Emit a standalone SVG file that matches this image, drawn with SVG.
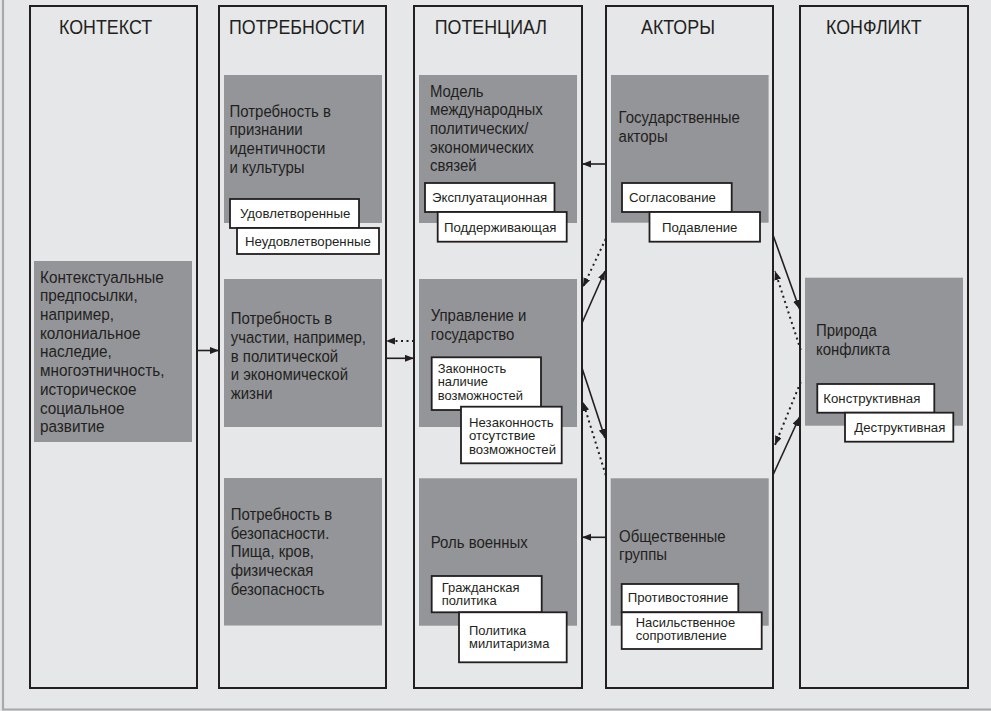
<svg xmlns="http://www.w3.org/2000/svg" width="991" height="711" viewBox="0 0 991 711">
<defs>
<style>
.col{fill:none;stroke:#231f20;stroke-width:2}
.g{fill:#939598}
.w{fill:#ffffff;stroke:#231f20;stroke-width:1.8}
.h{font-family:"Liberation Sans",Arial,sans-serif;font-size:21px;fill:#231f20}
.t{font-family:"Liberation Sans",Arial,sans-serif;font-size:17px;fill:#231f20}
.s{font-family:"Liberation Sans",Arial,sans-serif;font-size:13.5px;fill:#231f20}
.m{font-family:"Liberation Sans",Arial,sans-serif;font-size:12px;fill:#231f20}
.ln{fill:none;stroke:#231f20;stroke-width:1.6;marker-end:url(#ah)}
.dt{fill:none;stroke:#231f20;stroke-width:2;stroke-dasharray:2 3.5;marker-end:url(#ah)}
</style>
<marker id="ah" markerUnits="userSpaceOnUse" markerWidth="10" markerHeight="8" refX="9" refY="3.5" orient="auto">
<path d="M0,0 L9,3.5 L0,7 z" fill="#231f20"/>
</marker>
</defs>
<rect x="0" y="0" width="991" height="711" fill="#e6e7e8"/>
<path d="M3,0 V709.5 H991" fill="none" stroke="#a7a9ac" stroke-width="2.2"/>

<g id="col-context">
<rect class="col" x="30" y="6" width="167" height="682"/>
<text class="h" transform="translate(59 34) scale(0.85 1)">КОНТЕКСТ</text>
</g>
<g id="col-needs">
<rect class="col" x="219" y="6" width="167" height="682"/>
<text class="h" transform="translate(229 34) scale(0.85 1)">ПОТРЕБНОСТИ</text>
</g>
<g id="col-potential">
<rect class="col" x="414" y="6" width="168" height="682"/>
<text class="h" transform="translate(434.7 34) scale(0.85 1)">ПОТЕНЦИАЛ</text>
</g>
<g id="col-actors">
<rect class="col" x="606" y="6" width="167" height="682"/>
<text class="h" transform="translate(641 34) scale(0.85 1)">АКТОРЫ</text>
</g>
<g id="col-conflict">
<rect class="col" x="800" y="6" width="168" height="682"/>
<text class="h" transform="translate(826 34) scale(0.85 1)">КОНФЛИКТ</text>
</g>

<g id="context-box">
<rect class="g" x="34" y="261" width="158" height="181"/>
<text class="t" transform="translate(40 282.7) scale(0.9 1)"><tspan x="0" y="0">Контекстуальные</tspan><tspan x="0" dy="18.7">предпосылки,</tspan><tspan x="0" dy="18.7">например,</tspan><tspan x="0" dy="18.7">колониальное</tspan><tspan x="0" dy="18.7">наследие,</tspan><tspan x="0" dy="18.7">многоэтничность,</tspan><tspan x="0" dy="18.7">историческое</tspan><tspan x="0" dy="18.7">социальное</tspan><tspan x="0" dy="18.7">развитие</tspan></text>
</g>

<g id="need-identity">
<rect class="g" x="224" y="75" width="158" height="148"/>
<text class="t" transform="translate(229.5 116.7) scale(0.88 1)"><tspan x="0" y="0">Потребность в</tspan><tspan x="0" dy="18.7">признании</tspan><tspan x="0" dy="18.7">идентичности</tspan><tspan x="0" dy="18.7">и культуры</tspan></text>
</g>
<g id="opt-satisfied">
<rect class="w" x="230" y="199" width="129" height="29"/>
<text class="s" transform="translate(240 217.5) scale(0.98 1)">Удовлетворенные</text>
</g>
<g id="opt-unsatisfied">
<rect class="w" x="237" y="228" width="142" height="26"/>
<text class="s" transform="translate(245 246) scale(0.98 1)">Неудовлетворенные</text>
</g>

<g id="need-participation">
<rect class="g" x="224" y="279" width="158" height="148"/>
<text class="t" transform="translate(230.7 324.3) scale(0.88 1)"><tspan x="0" y="0">Потребность в</tspan><tspan x="0" dy="18.7">участии, например,</tspan><tspan x="0" dy="18.7">в политической</tspan><tspan x="0" dy="18.7">и экономической</tspan><tspan x="0" dy="18.7">жизни</tspan></text>
</g>

<g id="need-security">
<rect class="g" x="224" y="478" width="158" height="147.5"/>
<text class="t" transform="translate(230.7 520) scale(0.88 1)"><tspan x="0" y="0">Потребность в</tspan><tspan x="0" dy="18.7">безопасности.</tspan><tspan x="0" dy="18.7">Пища, кров,</tspan><tspan x="0" dy="18.7">физическая</tspan><tspan x="0" dy="18.7">безопасность</tspan></text>
</g>

<g id="pot-model">
<rect class="g" x="419" y="75" width="158" height="148"/>
<text class="t" transform="translate(430 96.7) scale(0.88 1)"><tspan x="0" y="0">Модель</tspan><tspan x="0" dy="18.7">международных</tspan><tspan x="0" dy="18.7">политических/</tspan><tspan x="0" dy="18.7">экономических</tspan><tspan x="0" dy="18.7">связей</tspan></text>
</g>
<g id="opt-exploit">
<rect class="w" x="425" y="183" width="129.5" height="29"/>
<text class="s" transform="translate(432 201.5) scale(0.98 1)">Эксплуатационная</text>
</g>
<g id="opt-support">
<rect class="w" x="437.7" y="212" width="129" height="29.7"/>
<text class="s" transform="translate(444 231.5) scale(0.98 1)">Поддерживающая</text>
</g>

<g id="pot-governance">
<rect class="g" x="419" y="279" width="158" height="148"/>
<text class="t" transform="translate(430.7 321) scale(0.88 1)"><tspan x="0" y="0">Управление и</tspan><tspan x="0" dy="18.7">государство</tspan></text>
</g>
<g id="opt-legit">
<rect class="w" x="431.7" y="357.3" width="109.3" height="52.7"/>
<text class="m" transform="translate(437.7 373) scale(1.08 1)"><tspan x="0" y="0">Законность</tspan><tspan x="0" dy="13.4">наличие</tspan><tspan x="0" dy="13.4">возможностей</tspan></text>
</g>
<g id="opt-illegit">
<rect class="w" x="461" y="406.7" width="100.7" height="56.6"/>
<text class="m" transform="translate(469 426.7) scale(1.1 1)"><tspan x="0" y="0">Незаконность</tspan><tspan x="0" dy="13.4">отсутствие</tspan><tspan x="0" dy="13.4">возможностей</tspan></text>
</g>

<g id="pot-military">
<rect class="g" x="419" y="478.3" width="158" height="147.4"/>
<text class="t" transform="translate(430.7 548.3) scale(0.88 1)">Роль военных</text>
</g>
<g id="opt-civil">
<rect class="w" x="431.7" y="576" width="110" height="36.3"/>
<text class="m" transform="translate(441.7 591.5) scale(1.08 1)"><tspan x="0" y="0">Гражданская</tspan><tspan x="0" dy="13.4">политика</tspan></text>
</g>
<g id="opt-militarism">
<rect class="w" x="459" y="612.3" width="107.7" height="50"/>
<text class="m" transform="translate(469 635) scale(1.08 1)"><tspan x="0" y="0">Политика</tspan><tspan x="0" dy="13.4">милитаризма</tspan></text>
</g>

<g id="act-state">
<rect class="g" x="611" y="75" width="157.6" height="147.7"/>
<text class="t" transform="translate(618.6 123) scale(0.88 1)"><tspan x="0" y="0">Государственные</tspan><tspan x="0" dy="18.7">акторы</tspan></text>
</g>
<g id="opt-consent">
<rect class="w" x="622" y="183" width="109.7" height="29"/>
<text class="s" transform="translate(629 201.5) scale(0.98 1)">Согласование</text>
</g>
<g id="opt-repress">
<rect class="w" x="649.5" y="212" width="110.5" height="29.7"/>
<text class="s" transform="translate(662 231.5) scale(0.98 1)">Подавление</text>
</g>

<g id="act-groups">
<rect class="g" x="610.7" y="478.3" width="158" height="147.4"/>
<text class="t" transform="translate(619 541.7) scale(0.88 1)"><tspan x="0" y="0">Общественные</tspan><tspan x="0" dy="18.5">группы</tspan></text>
</g>
<g id="opt-oppose">
<rect class="w" x="621.7" y="584" width="116.6" height="28.3"/>
<text class="s" transform="translate(627.7 602) scale(0.98 1)">Противостояние</text>
</g>
<g id="opt-violent">
<rect class="w" x="621.7" y="612.3" width="140" height="36.7"/>
<text class="m" transform="translate(635.7 626.7) scale(1.08 1)"><tspan x="0" y="0">Насильственное</tspan><tspan x="0" dy="13.4">сопротивление</tspan></text>
</g>

<g id="conf-nature">
<rect class="g" x="805" y="277.7" width="158" height="148"/>
<text class="t" transform="translate(816 336) scale(0.88 1)"><tspan x="0" y="0">Природа</tspan><tspan x="0" dy="19">конфликта</tspan></text>
</g>
<g id="opt-constructive">
<rect class="w" x="817.3" y="384" width="117" height="28.7"/>
<text class="s" transform="translate(823.3 403) scale(0.98 1)">Конструктивная</text>
</g>
<g id="opt-destructive">
<rect class="w" x="845" y="412.7" width="108.3" height="29"/>
<text class="s" transform="translate(854.3 432) scale(0.98 1)">Деструктивная</text>
</g>

<g id="connectors">
<path class="ln" d="M197,350.5 H219"/>
<path class="dt" d="M414,341 H386"/>
<path class="ln" d="M386,358.3 H414"/>
<path class="ln" d="M606,164 H582"/>
<path class="dt" d="M605.7,239 L583,287"/>
<path class="ln" d="M582,323 L605,271"/>
<path class="ln" d="M582,368 L605,438"/>
<path class="dt" d="M605.7,475 L583,402"/>
<path class="ln" d="M606,537.3 H582"/>
<path class="ln" d="M773,235 L799.5,309"/>
<path class="dt" d="M800.7,350 L775,271"/>
<path class="dt" d="M800.7,382 L775,445"/>
<path class="ln" d="M773,475 L799.5,417"/>
</g>
</svg>
